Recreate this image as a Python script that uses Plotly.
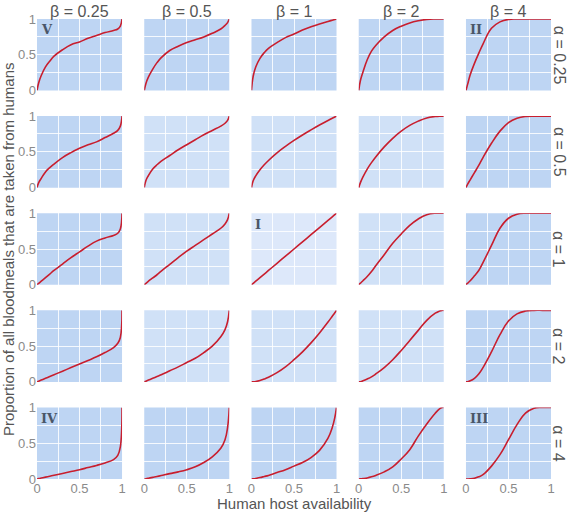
import plotly.graph_objects as go
from plotly.subplots import make_subplots

# ---------------- data ----------------
ALPHAS = ["0.25", "0.5", "1", "2", "4"]          # rows
BETAS = ["0.25", "0.5", "1", "2", "4"]           # columns
X = [0, 0.02, 0.05, 0.1, 0.15, 0.2, 0.3, 0.4, 0.5, 0.6, 0.7, 0.8, 0.9, 0.95, 0.98, 1]

# one list per beta column, for each alpha row
ROW_A025 = [
    [0, .11, .21, .33, .41, .48, .57, .64, .68, .73, .77, .81, .84, .86, .90, 1],
    [0, .10, .19, .30, .39, .46, .56, .62, .67, .71, .75, .80, .86, .91, .95, 1],
    [0, .20, .33, .45, .53, .59, .67, .74, .79, .845, .89, .93, .966, .983, .993, 1],
    [0, .14, .26, .43, .55, .63, .75, .84, .90, .945, .975, .995, 1, 1, 1, 1],
    [0, .09, .22, .38, .52, .65, .87, .96, .995, 1, 1, 1, 1, 1, 1, 1],
]
ROW_A05 = [
    [0, .07, .13, .22, .28, .33, .42, .49, .55, .60, .64, .70, .76, .80, .86, 1],
    [0, .10, .17, .26, .32, .37, .45, .53, .60, .67, .74, .80, .86, .90, .94, 1],
    [0, .096, .165, .25, .32, .38, .486, .577, .66, .736, .807, .875, .939, .97, .988, 1],
    [0, .07, .15, .26, .35, .43, .57, .69, .79, .87, .93, .975, .995, 1, 1, 1],
    [0, .05, .11, .21, .31, .42, .62, .79, .91, .97, .995, 1, 1, 1, 1, 1],
]
ROW_A1 = [
    [0, .02, .05, .10, .15, .20, .29, .38, .46, .54, .61, .655, .69, .72, .78, 1],
    [0, .02, .05, .095, .14, .19, .285, .38, .47, .55, .63, .71, .79, .85, .91, 1],
    [0, .02, .05, .10, .15, .20, .30, .40, .50, .60, .70, .80, .90, .95, .98, 1],
    [0, .022, .056, .115, .185, .265, .42, .58, .71, .83, .92, .98, 1, 1, 1, 1],
    [0, .022, .056, .125, .20, .31, .55, .79, .93, .985, 1, 1, 1, 1, 1, 1],
]
ROW_A2 = [
    [0, .01, .025, .05, .075, .10, .15, .20, .25, .30, .35, .41, .48, .54, .62, 1],
    [0, .01, .025, .05, .075, .10, .155, .21, .27, .33, .41, .50, .63, .73, .84, 1],
    [0, .0013, .006, .02, .04, .065, .129, .21, .31, .42, .545, .684, .836, .917, .966, 1],
    [0, .003, .015, .04, .07, .11, .20, .31, .44, .58, .72, .86, .96, .99, 1, 1],
    [0, .003, .015, .05, .11, .20, .42, .66, .85, .95, .99, 1, 1, 1, 1, 1],
]
ROW_A4 = [
    [0, .005, .013, .026, .039, .052, .078, .104, .13, .16, .19, .225, .27, .33, .45, 1],
    [0, .004, .011, .023, .035, .048, .075, .10, .13, .17, .23, .31, .43, .55, .72, 1],
    [0, .003, .008, .02, .035, .05, .09, .13, .18, .23, .30, .40, .57, .72, .86, 1],
    [0, .002, .006, .015, .03, .05, .10, .17, .28, .41, .60, .77, .92, .98, 1, 1],
    [0, 0, .002, .01, .03, .06, .18, .34, .55, .76, .92, .99, 1, 1, 1, 1],
]
ROWS = [ROW_A025, ROW_A05, ROW_A1, ROW_A2, ROW_A4]

TICK_VALS = [0, 0.25, 0.5, 0.75, 1]
TICK_TEXT = ["0", "", "0.5", "", "1"]
PANEL_TAGS = {(0, 0): "V", (0, 4): "II", (2, 2): "I", (4, 0): "IV", (4, 4): "III"}

# ---------------- styling ----------------
FONT = "Liberation Sans, Arial, sans-serif"
DARK_BG = "#bed5f3"
MID_BG = "#d0e1f7"
LIGHT_BG = "#dde8fa"
LINE_RED = "#c81e2e"
TXT = "#555555"
TICK_TXT = "#8a8a8a"

fig = make_subplots(rows=5, cols=5, horizontal_spacing=0.0432, vertical_spacing=0.0556)

shapes = []
annotations = []
for r in range(5):
    for c in range(5):
        idx = r * 5 + c + 1
        suffix = "" if idx == 1 else str(idx)
        fig.add_trace(
            go.Scatter(x=X, y=ROWS[r][c], mode="lines",
                       line=dict(color=LINE_RED, width=1.6, shape="spline", smoothing=1.2),
                       showlegend=False, hoverinfo="skip"),
            row=r + 1, col=c + 1)
        if r in (0, 4) or c in (0, 4):
            bg = DARK_BG
        elif (r, c) == (2, 2):
            bg = LIGHT_BG
        else:
            bg = MID_BG
        shapes.append(dict(type="rect", xref=f"x{suffix} domain", yref=f"y{suffix} domain",
                           x0=0, x1=1, y0=0, y1=1, fillcolor=bg, line=dict(width=0),
                           layer="below"))
        if (r, c) in PANEL_TAGS:
            annotations.append(dict(text=f"<b>{PANEL_TAGS[(r, c)]}</b>",
                                    xref=f"x{suffix} domain", yref=f"y{suffix} domain",
                                    x=0.02, y=0.98, xanchor="left", yanchor="top",
                                    showarrow=False,
                                    font=dict(family="DejaVu Serif, Liberation Serif, serif",
                                              size=13, color="#4a5668")))
        fig.update_xaxes(range=[0, 1], tickvals=TICK_VALS, ticktext=TICK_TEXT,
                         showticklabels=(r == 4), showgrid=True, gridcolor="rgba(255,255,255,0.85)",
                         gridwidth=1, zeroline=False, showline=False, ticks="",
                         tickfont=dict(family=FONT, size=13, color=TICK_TXT),
                         row=r + 1, col=c + 1)
        fig.update_yaxes(range=[0, 1], tickvals=TICK_VALS, ticktext=TICK_TEXT,
                         showticklabels=(c == 0), showgrid=True, gridcolor="rgba(255,255,255,0.85)",
                         gridwidth=1, zeroline=False, showline=False, ticks="",
                         tickfont=dict(family=FONT, size=13, color=TICK_TXT),
                         row=r + 1, col=c + 1)

# column titles (beta) and row titles (alpha)
for c in range(5):
    dom = fig.layout[f"xaxis{'' if c == 0 else c + 1}"].domain
    annotations.append(dict(text=f"β = {BETAS[c]}", xref="paper", yref="paper",
                            x=(dom[0] + dom[1]) / 2, y=1, xanchor="center", yanchor="bottom",
                            yshift=-3, showarrow=False,
                            font=dict(family=FONT, size=16, color=TXT)))
for r in range(5):
    dom = fig.layout[f"yaxis{'' if r == 0 else r * 5 + 1}"].domain
    annotations.append(dict(text=f"α = {ALPHAS[r]}", xref="paper", yref="paper",
                            x=1, y=(dom[0] + dom[1]) / 2, xanchor="center", yanchor="middle",
                            xshift=8, textangle=90, showarrow=False,
                            font=dict(family=FONT, size=16, color=TXT)))

annotations.append(dict(text="Human host availability", xref="paper", yref="paper",
                        x=0.5, y=0, yanchor="top", yshift=-14, showarrow=False,
                        font=dict(family=FONT, size=15, color=TXT)))
annotations.append(dict(text="Proportion of all bloodmeals that are taken from humans",
                        xref="paper", yref="paper", x=0, y=0.5, xanchor="center",
                        xshift=-29, textangle=-90, showarrow=False,
                        font=dict(family=FONT, size=15, color=TXT)))

fig.update_layout(width=567, height=512, margin=dict(l=37, r=14, t=16, b=33),
                  plot_bgcolor="white", paper_bgcolor="white",
                  shapes=shapes, annotations=annotations,
                  font=dict(family=FONT, color=TXT))

fig.write_html("out.html", config={"displayModeBar": False},
               post_script="document.body.style.margin='0';document.body.style.padding='0';")
